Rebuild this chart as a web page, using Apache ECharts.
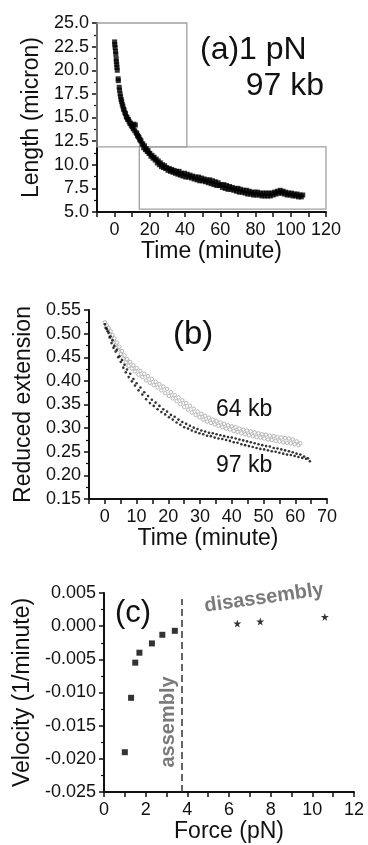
<!DOCTYPE html>
<html>
<head>
<meta charset="utf-8">
<script src="https://cdn.jsdelivr.net/npm/echarts@6/dist/echarts.min.js"></script>
<style>
html,body{margin:0;padding:0;background:#fff;}
#chart{width:368px;height:845px;}
</style>
</head>
<body>
<div id="chart"></div>
<script>
// ---------- Panel (a): 1 pN, 97 kb ----------
const timeA = [0.0,0.1,0.3,0.5,0.7,0.9,1.0,1.2,1.3,1.5,2.0,2.1,2.6,2.8,3.1,3.4,3.7,4.0,4.3,4.7,5.0,5.4,5.8,6.2,6.6,7.0,7.4,7.8,8.2,8.6,9.0,9.4,9.8,10.2,10.6,11.0,11.4,11.8,12.2,12.6,13.0,13.4,13.8,14.2,14.6,15.0,15.5,16.0,16.5,17.0,17.5,18.0,18.5,19.0,19.5,20.0,20.6,21.2,21.8,22.4,23.0,23.6,24.2,24.8,25.4,26.0,26.6,27.2,27.8,28.4,29.0,29.6,30.3,31.0,31.7,32.4,33.1,33.8,34.5,35.2,35.9,36.6,37.3,38.0,38.8,39.6,40.4,41.2,42.0,42.8,43.6,44.4,45.2,46.0,46.8,47.6,48.4,49.2,50.0,50.8,51.6,52.4,53.2,54.0,54.8,55.6,56.4,57.2,58.0,58.8,59.6,60.4,61.2,62.0,62.8,63.6,64.4,65.2,66.0,66.8,67.6,68.4,69.2,70.0,70.8,71.6,72.4,73.2,74.0,74.8,75.6,76.4,77.2,78.0,78.8,79.6,80.4,81.2,82.0,82.8,83.6,84.4,85.2,86.0,86.8,87.6,88.4,89.2,90.0,90.8,91.6,92.4,93.2,94.0,94.8,95.6,96.4,97.2,98.0,98.8,99.6,100.4,101.2,102.0,102.8,103.6,104.4,105.2,106.0,106.8];
const lengthA = [23.0,22.7,22.4,22.0,21.7,21.2,20.9,20.6,20.3,20.0,19.1,18.9,18.2,17.9,17.5,17.2,16.9,16.7,16.4,16.2,15.9,15.8,15.5,15.4,15.1,15.0,14.8,14.8,14.6,14.4,14.4,14.2,14.1,14.0,13.8,14.3,13.6,14.2,13.4,13.3,13.1,13.0,12.9,12.7,12.6,12.5,12.2,12.2,11.8,12.0,11.6,11.7,11.4,11.5,11.2,11.2,10.9,11.0,10.7,10.8,10.5,10.6,10.2,10.4,10.0,10.2,9.8,10.0,9.7,9.9,9.6,9.7,9.4,9.6,9.3,9.5,9.2,9.4,9.1,9.3,9.0,9.3,8.9,9.1,8.8,9.1,8.7,9.0,8.7,8.9,8.6,8.8,8.5,8.7,8.4,8.7,8.3,8.6,8.3,8.5,8.2,8.4,8.1,8.4,8.0,8.3,7.9,8.2,7.8,8.1,7.8,7.9,7.6,7.9,7.5,7.8,7.4,7.7,7.4,7.6,7.3,7.5,7.2,7.5,7.1,7.4,7.1,7.3,7.0,7.3,6.9,7.2,6.9,7.1,6.8,7.1,6.8,7.1,6.8,7.0,6.7,7.0,6.7,7.0,6.7,7.0,6.7,7.0,6.8,7.1,6.9,7.2,7.0,7.3,7.0,7.2,6.9,7.1,6.8,7.0,6.8,7.0,6.7,6.9,6.7,6.9,6.6,6.8,6.6,6.8];
// zoom boxes drawn on panel (a): [xStart, yStart, xEnd, yEnd]
const boxUpper = [-10, 25, 41, 11.9];
const boxLower = [14, 5.3, 120, 11.9];

// ---------- Panel (b): reduced extension ----------
const time97 = [0.0,0.3,0.6,0.9,1.2,1.5,1.8,2.1,2.4,2.7,3.0,3.4,3.8,4.2,4.6,5.0,5.4,5.8,6.2,6.6,7.0,7.5,8.0,8.5,9.0,9.5,10.0,10.6,11.2,11.8,12.4,13.0,13.6,14.2,14.8,15.4,16.0,16.6,17.2,17.8,18.4,19.0,19.6,20.2,20.8,21.4,22.0,22.6,23.2,23.8,24.4,25.0,25.6,26.2,26.8,27.4,28.0,28.6,29.2,29.8,30.4,31.0,31.6,32.2,32.8,33.4,34.0,34.6,35.2,35.8,36.4,37.0,37.6,38.2,38.8,39.4,40.0,40.6,41.2,41.8,42.4,43.0,43.6,44.2,44.8,45.4,46.0,46.6,47.2,47.8,48.4,49.0,49.6,50.2,50.8,51.4,52.0,52.6,53.2,53.8,54.4,55.0,55.6,56.2,56.8,57.4,58.0,58.6,59.2,59.8,60.4,61.0,61.6,62.2,62.8,63.4,64.0,64.6];
const ext97 = [0.520,0.512,0.510,0.505,0.502,0.492,0.494,0.480,0.486,0.470,0.474,0.462,0.466,0.450,0.452,0.440,0.444,0.428,0.434,0.418,0.424,0.408,0.415,0.399,0.404,0.390,0.395,0.380,0.386,0.371,0.376,0.361,0.368,0.353,0.360,0.347,0.354,0.340,0.347,0.334,0.340,0.329,0.335,0.323,0.328,0.318,0.324,0.312,0.318,0.307,0.313,0.302,0.309,0.299,0.305,0.295,0.301,0.292,0.298,0.289,0.295,0.287,0.293,0.284,0.290,0.283,0.289,0.280,0.287,0.278,0.285,0.277,0.283,0.275,0.281,0.273,0.280,0.270,0.278,0.269,0.276,0.266,0.274,0.264,0.272,0.262,0.270,0.260,0.268,0.258,0.266,0.256,0.264,0.255,0.262,0.253,0.261,0.251,0.258,0.250,0.257,0.248,0.255,0.246,0.253,0.244,0.251,0.243,0.249,0.241,0.246,0.239,0.244,0.237,0.240,0.235,0.236,0.230];
const time64 = [0.0,0.3,0.6,0.9,1.2,1.5,1.8,2.1,2.4,2.7,3.0,3.4,3.8,4.2,4.6,5.0,5.4,5.8,6.2,6.6,7.0,7.5,8.0,8.5,9.0,9.5,10.0,10.6,11.2,11.8,12.4,13.0,13.6,14.2,14.8,15.4,16.0,16.6,17.2,17.8,18.4,19.0,19.6,20.2,20.8,21.4,22.0,22.6,23.2,23.8,24.4,25.0,25.6,26.2,26.8,27.4,28.0,28.6,29.2,29.8,30.4,31.0,31.6,32.2,32.8,33.4,34.0,34.6,35.2,35.8,36.4,37.0,37.6,38.2,38.8,39.4,40.0,40.6,41.2,41.8,42.4,43.0,43.6,44.2,44.8,45.4,46.0,46.6,47.2,47.8,48.4,49.0,49.6,50.2,50.8,51.4,52.0,52.6,53.2,53.8,54.4,55.0,55.6,56.2,56.8,57.4,58.0,58.6,59.2,59.8,60.4,61.0,61.6];
const ext64 = [0.524,0.514,0.518,0.508,0.512,0.500,0.505,0.493,0.497,0.486,0.490,0.476,0.481,0.466,0.472,0.457,0.463,0.447,0.454,0.439,0.446,0.432,0.440,0.426,0.433,0.420,0.427,0.413,0.421,0.408,0.415,0.401,0.410,0.396,0.404,0.391,0.398,0.386,0.393,0.380,0.388,0.374,0.383,0.368,0.376,0.363,0.370,0.357,0.365,0.351,0.359,0.345,0.353,0.339,0.347,0.333,0.341,0.328,0.335,0.323,0.330,0.318,0.326,0.314,0.322,0.311,0.318,0.308,0.315,0.305,0.312,0.302,0.309,0.299,0.306,0.297,0.304,0.294,0.302,0.292,0.299,0.289,0.297,0.287,0.295,0.285,0.293,0.283,0.291,0.281,0.289,0.280,0.287,0.278,0.286,0.276,0.284,0.275,0.283,0.273,0.281,0.272,0.280,0.270,0.279,0.269,0.278,0.268,0.276,0.266,0.272,0.264,0.268];

// ---------- Panel (c): velocity vs force ----------
const forceAssembly = [1.0, 1.3, 1.5, 1.7, 2.3, 2.8, 3.4];
const velAssembly = [-0.0190, -0.0108, -0.0055, -0.0040, -0.0026, -0.0013, -0.0007];
const forceDisassembly = [6.4, 7.5, 10.6];
const velDisassembly = [0.0004, 0.0007, 0.0014];
const boundaryForce = 3.75;
const boundaryTop = 0.0041;

// ---------- axis settings ----------
const xTicksA = {min: -10, max: 120, step: 10, labelStep: 20};
const yTicksA = {min: 5, max: 25, step: 2.5};
const xTicksB = {min: -5, max: 70, step: 5, labelStep: 10};
const yTicksB = {min: 0.15, max: 0.55, step: 0.05};
const xTicksC = {min: 0, max: 12, step: 1, labelStep: 2};
const yTicksC = {min: -0.025, max: 0.005, step: 0.005};

const zip = (a, b) => a.map((v, i) => [v, b[i]]);
const FONT = 'Liberation Sans, Arial, Helvetica, sans-serif';
const GRAY = '#7a7a7a';

function xAxisCfg(gi, t, name, gap) {
  return {
    type: 'value', gridIndex: gi, min: t.min, max: t.max, interval: t.step,
    name: name, nameLocation: 'middle', nameGap: gap,
    nameTextStyle: {fontFamily: FONT, fontSize: 23, color: '#111'},
    axisLine: {show: true, onZero: false, lineStyle: {color: '#111', width: 2}},
    axisTick: {show: true, inside: false, length: 5, lineStyle: {color: '#111', width: 1.5}},
    axisLabel: {
      fontFamily: FONT, fontSize: 18, color: '#111', margin: 9,
      formatter: v => {
        const r = Math.round(v * 1000) / 1000;
        return (r >= 0 && Math.abs(r / t.labelStep - Math.round(r / t.labelStep)) < 1e-6) ? String(r) : '';
      }
    },
    splitLine: {show: false}
  };
}
function yAxisCfg(gi, t, name, gap, dec) {
  return {
    type: 'value', gridIndex: gi, min: t.min, max: t.max, interval: t.step,
    name: name, nameLocation: 'middle', nameGap: gap,
    nameTextStyle: {fontFamily: FONT, fontSize: 23, color: '#111'},
    axisLine: {show: true, onZero: false, lineStyle: {color: '#111', width: 2}},
    axisTick: {show: true, inside: false, length: 5, lineStyle: {color: '#111', width: 1.5}},
    minorTick: {show: true, splitNumber: 2, length: 3, lineStyle: {color: '#111', width: 1.2}},
    axisLabel: {fontFamily: FONT, fontSize: 18, color: '#111', margin: 8,
      formatter: v => Number(v).toFixed(dec)},
    splitLine: {show: false}
  };
}

const starPath = 'path://M50,0 L61,35 L98,35 L68,57 L79,91 L50,70 L21,91 L32,57 L2,35 L39,35 Z';

const chart = echarts.init(document.getElementById('chart'), null, {renderer: 'canvas'});
chart.setOption({
  backgroundColor: '#fff',
  animation: false,
  grid: [
    {left: 97, top: 23, width: 229, height: 189},
    {left: 89, top: 310, width: 238, height: 189},
    {left: 104, top: 593, width: 250, height: 199}
  ],
  xAxis: [
    xAxisCfg(0, xTicksA, 'Time (minute)', 27),
    xAxisCfg(1, xTicksB, 'Time (minute)', 27),
    xAxisCfg(2, xTicksC, 'Force (pN)', 28)
  ],
  yAxis: [
    yAxisCfg(0, yTicksA, 'Length (micron)', 52, 1),
    yAxisCfg(1, yTicksB, 'Reduced extension', 52, 2),
    yAxisCfg(2, yTicksC, 'Velocity (1/minute)', 67, 3)
  ],
  series: [
    {
      type: 'scatter', xAxisIndex: 0, yAxisIndex: 0, name: '97 kb (1 pN)',
      data: zip(timeA, lengthA), symbol: 'rect', symbolSize: 5,
      itemStyle: {color: '#000'},
      markArea: {
        silent: true,
        itemStyle: {color: 'rgba(0,0,0,0)', borderColor: '#a0a0a0', borderWidth: 1.3},
        data: [
          [{coord: [boxUpper[0], boxUpper[1]]}, {coord: [boxUpper[2], boxUpper[3]]}],
          [{coord: [boxLower[0], boxLower[1]]}, {coord: [boxLower[2], boxLower[3]]}]
        ]
      }
    },
    {
      type: 'scatter', xAxisIndex: 1, yAxisIndex: 1, name: '64 kb',
      data: zip(time64, ext64), symbol: 'circle', symbolSize: 3.5,
      itemStyle: {color: '#ffffff', borderColor: '#9a9a9a', borderWidth: 0.9}
    },
    {
      type: 'scatter', xAxisIndex: 1, yAxisIndex: 1, name: '97 kb',
      data: zip(time97, ext97), symbol: 'circle', symbolSize: 2.6,
      itemStyle: {color: '#000'}
    },
    {
      type: 'scatter', xAxisIndex: 2, yAxisIndex: 2, name: 'assembly',
      data: zip(forceAssembly, velAssembly), symbol: 'rect', symbolSize: 6,
      itemStyle: {color: '#000'},
      markLine: {
        silent: true, symbol: 'none', label: {show: false},
        lineStyle: {color: '#333', width: 1.5, type: [7, 4]},
        data: [[{coord: [boundaryForce, yTicksC.min]}, {coord: [boundaryForce, boundaryTop]}]]
      }
    },
    {
      type: 'scatter', xAxisIndex: 2, yAxisIndex: 2, name: 'disassembly',
      data: zip(forceDisassembly, velDisassembly), symbol: starPath, symbolSize: 8,
      itemStyle: {color: '#000'}
    }
  ],
  graphic: [
    {type: 'text', left: 200, top: 34, style: {text: '(a)1 pN', font: '32px ' + FONT, fill: '#111'}},
    {type: 'text', right: 44, top: 70, style: {text: '97 kb', font: '32px ' + FONT, fill: '#111'}},
    {type: 'text', left: 173, top: 318, style: {text: '(b)', font: '33px ' + FONT, fill: '#111'}},
    {type: 'text', left: 216, top: 398, style: {text: '64 kb', font: '23px ' + FONT, fill: '#111'}},
    {type: 'text', left: 216, top: 454, style: {text: '97 kb', font: '23px ' + FONT, fill: '#111'}},
    {type: 'text', left: 115, top: 598, style: {text: '(c)', font: '31px ' + FONT, fill: '#111'}},
    {type: 'text', x: 264, y: 598, rotation: 0.14,
      style: {text: 'disassembly', font: 'bold 20px ' + FONT, fill: GRAY, textAlign: 'center', textVerticalAlign: 'middle'}},
    {type: 'text', x: 168, y: 722, rotation: Math.PI / 2,
      style: {text: 'assembly', font: 'bold 20px ' + FONT, fill: GRAY, textAlign: 'center', textVerticalAlign: 'middle'}}
  ]
});
</script>
</body>
</html>
